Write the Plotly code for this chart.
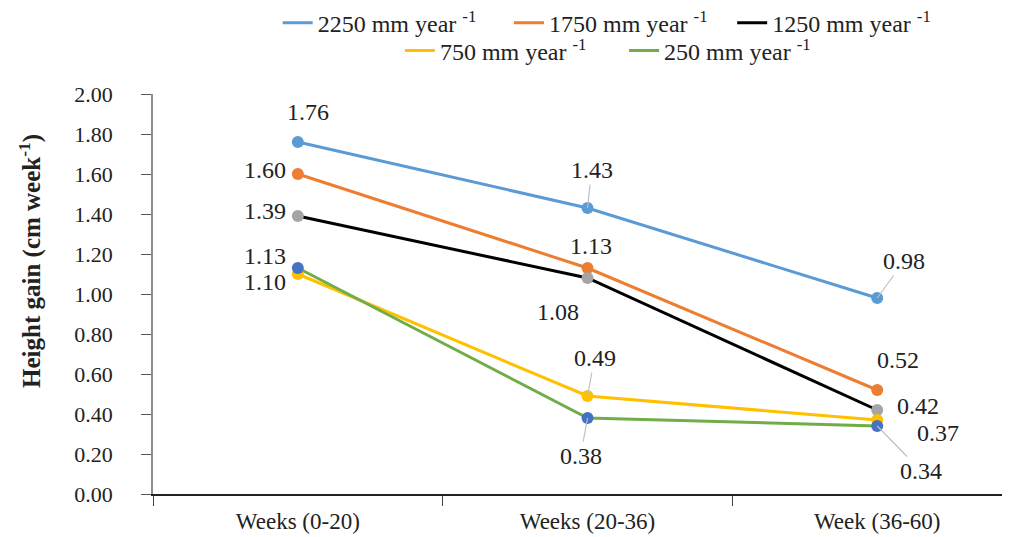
import plotly.graph_objects as go

categories = ["Weeks (0-20)", "Weeks (20-36)", "Week (36-60)"]
series_names = ["2250 mm year <sup>-1</sup>", "1750 mm year <sup>-1</sup>", "1250 mm year <sup>-1</sup>",
                "750 mm year <sup>-1</sup>", "250 mm year <sup>-1</sup>"]
v2250 = [1.76, 1.43, 0.98]
v1750 = [1.60, 1.13, 0.52]
v1250 = [1.39, 1.08, 0.42]
v750 = [1.10, 0.49, 0.37]
v250 = [1.13, 0.38, 0.34]
y_ticks = [0.0, 0.2, 0.4, 0.6, 0.8, 1.0, 1.2, 1.4, 1.6, 1.8, 2.0]

values = [v2250, v1750, v1250, v750, v250]
line_colors = ["#5B9BD5", "#ED7D31", "#000000", "#FFC000", "#70AD47"]
marker_colors = ["#5B9BD5", "#ED7D31", "#A5A5A5", "#FFC000", "#4472C4"]
legend_ids = ["legend", "legend2", "legend3", "legend4", "legend5"]
# legend item placement (container fraction), one legend per item
legend_pos = [(0.267, 0.972), (0.496, 0.972), (0.717, 0.972), (0.388, 0.92), (0.610, 0.92)]

FONT = "Liberation Serif"
fig = go.Figure()

for name, vals, lc, lg in zip(series_names, values, line_colors, legend_ids):
    fig.add_trace(go.Scatter(x=categories, y=vals, mode="lines", name=name,
                             line=dict(color=lc, width=3), legend=lg))
for name, vals, mc in zip(series_names, values, marker_colors):
    fig.add_trace(go.Scatter(x=categories, y=vals, mode="markers", showlegend=False,
                             marker=dict(color=mc, size=12), hoverinfo="skip"))

# label offsets (pixels) and whether a leader line is drawn
label_style = [
    [(10, -30, False), (4, -38, True), (27, -37, True)],
    [(-33, -4, False), (3, -22, False), (21, -30, False)],
    [(-33, -5, False), (-30, 34, False), (41, -4, False)],
    [(-33, 8, False), (7, -38, True), (61, 13, False)],
    [(-33, -12, False), (-7, 38, True), (44, 45, True)],
]
for vals, styles in zip(values, label_style):
    for cat, v, (ax, ay, lead) in zip(categories, vals, styles):
        fig.add_annotation(x=cat, y=v, text=f"{v:.2f}", showarrow=True,
                           ax=ax, ay=ay, arrowhead=0, arrowwidth=1.2, standoff=0,
                           arrowcolor="#BFBFBF" if lead else "rgba(0,0,0,0)",
                           font=dict(family=FONT, size=24, color="#222222"))

fig.add_annotation(xref="paper", yref="paper", x=-0.1422, y=0.5825, xanchor="center",
                   yanchor="middle", textangle=-90, showarrow=False,
                   text="<b>Height gain (cm week<sup>-1</sup>)</b>",
                   font=dict(size=25, family=FONT, color="#222222"))

legend_common = dict(orientation="h", xref="container", yref="container",
                     xanchor="left", yanchor="middle", font=dict(size=24), itemwidth=30,
                     bgcolor="rgba(0,0,0,0)")
legends = {}
for lg, (lx, ly) in zip(legend_ids, legend_pos):
    legends[lg] = dict(legend_common, x=lx, y=ly)

fig.update_layout(
    width=1010, height=537,
    margin=dict(l=145, r=0, t=86, b=51, autoexpand=False),
    paper_bgcolor="white", plot_bgcolor="white",
    font=dict(family=FONT, color="#222222"),
    xaxis=dict(type="category", range=[-0.5, 2.486], showgrid=False, showline=True,
               linecolor="#222222", linewidth=1.5, ticks="outside", tickson="boundaries",
               ticklen=10, tickcolor="#444444", tickfont=dict(size=23, family=FONT),
               ticklabelstandoff=6, zeroline=False, automargin=False),
    yaxis=dict(range=[0, 2.0], tickvals=y_ticks, tickformat=".2f", showgrid=False,
               showline=True, linecolor="#8C8C8C", linewidth=1.5, ticks="outside", ticklen=10,
               tickcolor="#555555", tickfont=dict(size=22, family=FONT), zeroline=False,
               ticklabelstandoff=24, automargin=False),
    **legends,
)

fig.write_html("out.html")
